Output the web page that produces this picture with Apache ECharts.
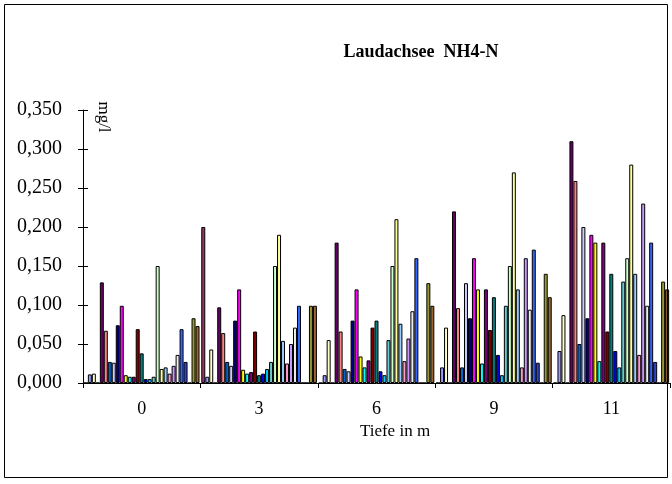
<!DOCTYPE html>
<html>
<head>
<meta charset="utf-8">
<script src="https://cdn.jsdelivr.net/npm/echarts@6/dist/echarts.min.js"></script>
<style>
html,body{margin:0;padding:0;background:#fff;}
#chart{width:672px;height:484px;}
</style>
</head>
<body>
<div id="chart"></div>
<script>
// Categories (Tiefe in m)
const categories = ['0', '3', '6', '9', '11'];
// Y axis ticks
const yMin = 0, yMax = 0.35, yStep = 0.05;

// Series values [0 m, 3 m, 6 m, 9 m, 11 m]
const s00 = [0.000, 0.200, 0.000, 0.000, 0.000];
const s01 = [0.011, 0.008, 0.010, 0.020, 0.041];
const s02 = [0.012, 0.043, 0.055, 0.071, 0.087];
const s03 = [0.000, 0.000, 0.000, 0.000, 0.000];
const s04 = [0.129, 0.097, 0.180, 0.220, 0.310];
const s05 = [0.067, 0.064, 0.066, 0.096, 0.259];
const s06 = [0.027, 0.027, 0.018, 0.020, 0.050];
const s07 = [0.026, 0.022, 0.015, 0.128, 0.200];
const s08 = [0.074, 0.080, 0.080, 0.083, 0.083];
const s09 = [0.099, 0.120, 0.120, 0.160, 0.190];
const s10 = [0.010, 0.017, 0.034, 0.120, 0.180];
const s11 = [0.008, 0.012, 0.020, 0.025, 0.028];
const s12 = [0.008, 0.014, 0.029, 0.120, 0.180];
const s13 = [0.069, 0.066, 0.071, 0.068, 0.066];
const s14 = [0.038, 0.010, 0.080, 0.110, 0.140];
const s15 = [0.005, 0.012, 0.015, 0.036, 0.041];
const s16 = [0.005, 0.018, 0.010, 0.010, 0.020];
const s17 = [0.008, 0.027, 0.055, 0.099, 0.130];
const s18 = [0.150, 0.150, 0.150, 0.150, 0.160];
const s19 = [0.018, 0.190, 0.210, 0.270, 0.280];
const s20 = [0.020, 0.054, 0.076, 0.120, 0.140];
const s21 = [0.012, 0.025, 0.028, 0.020, 0.036];
const s22 = [0.022, 0.050, 0.057, 0.160, 0.230];
const s23 = [0.036, 0.071, 0.092, 0.094, 0.099];
const s24 = [0.069, 0.099, 0.160, 0.171, 0.180];
const s25 = [0.027, 0.000, 0.000, 0.026, 0.027];
const s26 = [0.000, 0.000, 0.000, 0.000, 0.000];
const s27 = [0.083, 0.099, 0.128, 0.140, 0.130];
const s28 = [0.073, 0.099, 0.099, 0.110, 0.120];

const seriesValues = [s00,s01,s02,s03,s04,s05,s06,s07,s08,s09,s10,s11,s12,s13,s14,
  s15,s16,s17,s18,s19,s20,s21,s22,s23,s24,s25,s26,s27,s28];

const palette = ['#993366','#9999FF','#FFFFCC','#CCFFFF','#660066','#FF8080','#0066CC',
  '#CCCCFF','#000080','#FF00FF','#FFFF00','#00FFFF','#800080','#800000','#008080',
  '#0000FF','#00CCFF','#66CCCC','#CCFFCC','#FFFF99','#99CCFF','#FF99CC','#CC99FF',
  '#EEEEEE','#3366FF','#3344CC','#339999','#999933','#996633'];

const FONT = 'Liberation Serif';
const chart = echarts.init(document.getElementById('chart'), null, {renderer: 'canvas'});

const series = seriesValues.map((vals, i) => ({
  type: 'bar',
  name: 'S' + (i + 1),
  data: vals,
  xAxisIndex: 0,
  yAxisIndex: 0,
  barGap: '0%',
  barCategoryGap: '1.5%',
  itemStyle: { color: palette[i], borderColor: '#000', borderWidth: 1 },
  emphasis: { disabled: true },
  animation: false
}));

const fmt = v => v.toFixed(3).replace('.', ',');

chart.setOption({
  animation: false,
  backgroundColor: '#fff',
  grid: { left: 83, top: 110, width: 587, height: 273, containLabel: false },
  xAxis: {
    type: 'category',
    data: categories,
    axisLine: { lineStyle: { color: '#000', width: 1 } },
    axisTick: { show: true, length: 5, inside: false, alignWithLabel: false, lineStyle: { color: '#000' } },
    axisLabel: { color: '#000', fontFamily: FONT, fontSize: 18, margin: 17 },
    splitLine: { show: false }
  },
  yAxis: [{
    type: 'value',
    min: yMin, max: yMax, interval: yStep,
    axisLine: { show: true, lineStyle: { color: '#000', width: 1 } },
    axisTick: { show: true, length: 5, inside: false, lineStyle: { color: '#000' } },
    axisLabel: { color: '#000', fontFamily: FONT, fontSize: 20, margin: 21, formatter: fmt },
    splitLine: { show: false }
  }, {
    type: 'value',
    position: 'left',
    min: yMin, max: yMax, interval: yStep,
    axisLine: { show: false },
    axisTick: { show: true, length: 5, inside: true, lineStyle: { color: '#000' } },
    axisLabel: { show: false },
    splitLine: { show: false }
  }],
  series: series,
  graphic: [
    { type: 'rect', shape: { x: 4.5, y: 4.5, width: 663, height: 473 },
      style: { fill: 'none', stroke: '#000', lineWidth: 1 }, z: 100, silent: true },
    { type: 'text', x: 421, y: 52, style: { text: 'Laudachsee  NH4-N', font: 'bold 18px "Liberation Serif"', fill: '#000', textAlign: 'center', textVerticalAlign: 'middle' }, z: 100 },
    { type: 'text', x: 103, y: 117, rotation: -Math.PI / 2, style: { text: 'mg/l', font: '17px "Liberation Serif"', fill: '#000', textAlign: 'center', textVerticalAlign: 'middle' }, z: 100 },
    { type: 'text', x: 395, y: 432, style: { text: 'Tiefe in m', font: '17px "Liberation Serif"', fill: '#000', textAlign: 'center', textVerticalAlign: 'middle' }, z: 100 }
  ]
});
</script>
</body>
</html>
